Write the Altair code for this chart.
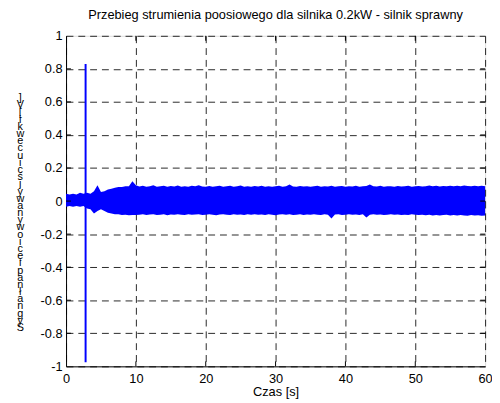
import altair as alt
import pandas as pd

# ---- data ----
t_env = [i * 0.5 for i in range(121)]
upper = [
    0.045, 0.040, 0.045, 0.040, 0.050, 0.045, 0.050, 0.045, 0.060, 0.095,
    0.055, 0.060, 0.070, 0.075, 0.080, 0.085, 0.085, 0.090, 0.090, 0.120,
    0.095,
    0.088, 0.092, 0.086, 0.090, 0.095, 0.087, 0.089, 0.093, 0.086, 0.091,
    0.088, 0.094, 0.087, 0.090, 0.086, 0.092, 0.089, 0.096, 0.088, 0.087,
    0.091, 0.086, 0.090, 0.093, 0.087, 0.089, 0.092, 0.086, 0.090, 0.094,
    0.087, 0.090, 0.086, 0.091, 0.088, 0.093, 0.087, 0.089, 0.086, 0.090,
    0.092, 0.087, 0.089, 0.100, 0.088, 0.086, 0.091, 0.088, 0.090, 0.087,
    0.089, 0.093, 0.086, 0.090, 0.088, 0.092, 0.087, 0.089, 0.091, 0.086,
    0.090, 0.088, 0.093, 0.087, 0.089, 0.091, 0.100, 0.090, 0.088, 0.092,
    0.087, 0.090, 0.089, 0.086, 0.091, 0.088, 0.090, 0.093, 0.087, 0.089,
    0.091, 0.088, 0.090, 0.094, 0.089, 0.092, 0.088, 0.091, 0.090, 0.093,
    0.090, 0.092, 0.089, 0.094, 0.091, 0.090, 0.093, 0.089, 0.092, 0.090,
]
lower = [
    -0.035, -0.030, -0.035, -0.030, -0.035, -0.030, -0.045, -0.050, -0.075, -0.060,
    -0.050, -0.060, -0.070, -0.075, -0.080, -0.080, -0.085, -0.083, -0.086, -0.084,
    -0.085,
    -0.082, -0.080, -0.085, -0.081, -0.079, -0.084, -0.082, -0.080, -0.086, -0.081,
    -0.083, -0.079, -0.082, -0.085, -0.080, -0.083, -0.081, -0.079, -0.084, -0.082,
    -0.080, -0.083, -0.086, -0.081, -0.079, -0.082, -0.084, -0.080, -0.083, -0.081,
    -0.085, -0.080, -0.082, -0.079, -0.083, -0.081, -0.084, -0.080, -0.082, -0.086,
    -0.081, -0.079, -0.083, -0.080, -0.084, -0.082, -0.080, -0.085, -0.081, -0.083,
    -0.079, -0.082, -0.084, -0.080, -0.083, -0.105, -0.081, -0.079, -0.084, -0.082,
    -0.080, -0.083, -0.081, -0.085, -0.080, -0.100, -0.082, -0.080, -0.083, -0.081,
    -0.084, -0.082, -0.080, -0.083, -0.081, -0.085, -0.082, -0.084, -0.080, -0.083,
    -0.085, -0.082, -0.086, -0.083, -0.087, -0.084, -0.088, -0.085, -0.083, -0.087,
    -0.085, -0.088, -0.084, -0.087, -0.089, -0.085, -0.088, -0.086, -0.089, -0.087,
]
spike_t = [2.8]
spike_lo = [-0.975]
spike_hi = [0.83]

x_ticks = [0, 10, 20, 30, 40, 50, 60]
y_ticks = [-1, -0.8, -0.6, -0.4, -0.2, 0, 0.2, 0.4, 0.6, 0.8, 1]

title_text = "Przebieg strumienia poosiowego dla silnika 0.2kW - silnik sprawny"
x_title = "Czas [s]"
y_title_str = "Sygnał napięciowy na wyjściu cewki [V]"
# the reference shows the label's characters stacked upright, last at top
y_title_lines = list(reversed(y_title_str))

FONT = "Liberation Sans"
LABEL_EXPR = "'' + datum.value"

env = pd.DataFrame({"t": t_env, "hi": upper, "lo": lower})
spike = pd.DataFrame({"t": spike_t, "lo": spike_lo, "hi": spike_hi})

xs = alt.Scale(domain=[0, 60], nice=False, zero=False)
ys = alt.Scale(domain=[-1, 1], nice=False, zero=False)

x_axis = alt.Axis(
    values=x_ticks, grid=True, gridDash=[7, 5], gridColor="#000000", gridOpacity=0.85,
    tickSize=0, labelPadding=6, labelFont=FONT, labelFontSize=13, labelColor="#000",
    domainColor="#000", title=x_title, titleFont=FONT, titleFontSize=13,
    titleFontWeight="normal", titleColor="#000", titlePadding=1, labelFlush=False,
    labelOverlap=False, labelExpr=LABEL_EXPR,
)
y_axis = alt.Axis(
    values=y_ticks, grid=True, gridDash=[7, 5], gridColor="#000000", gridOpacity=0.85,
    tickSize=0, labelPadding=4, labelFont=FONT, labelFontSize=13, labelColor="#000",
    domainColor="#000", title=y_title_lines, titleFont=FONT, titleFontSize=11,
    titleFontWeight="normal", titleColor="#000", titleAngle=0, titleLineHeight=7.3,
    titleAlign="center", titleBaseline="middle", titleX=-47, titleY=63, labelFlush=False,
    labelOverlap=False, labelExpr=LABEL_EXPR,
)

band = alt.Chart(env).mark_area(color="#0000ff", opacity=1, strokeWidth=0).encode(
    x=alt.X("t:Q", scale=xs, axis=x_axis),
    y=alt.Y("hi:Q", scale=ys, axis=y_axis),
    y2="lo:Q",
)

spike_rule = alt.Chart(spike).mark_rule(color="#0000ff", strokeWidth=2).encode(
    x=alt.X("t:Q", scale=xs, axis=x_axis),
    y=alt.Y("lo:Q", scale=ys, axis=y_axis),
    y2="hi:Q",
)

# inward tick marks (MATLAB style) on all four sides
tick_len_y = 0.03
tick_len_x = 0.7
xt_rows = []
for v in x_ticks[1:-1]:
    xt_rows.append({"x": v, "y": -1, "y2": -1 + tick_len_y})
    xt_rows.append({"x": v, "y": 1, "y2": 1 - tick_len_y})
yt_rows = []
for v in y_ticks[1:-1]:
    yt_rows.append({"y": v, "x": 0, "x2": tick_len_x})
    yt_rows.append({"y": v, "x": 60, "x2": 60 - tick_len_x})

xt = alt.Chart(pd.DataFrame(xt_rows)).mark_rule(color="#000", strokeWidth=1).encode(
    x=alt.X("x:Q", scale=xs, axis=x_axis),
    y=alt.Y("y:Q", scale=ys, axis=y_axis),
    y2="y2:Q",
)
yt = alt.Chart(pd.DataFrame(yt_rows)).mark_rule(color="#000", strokeWidth=1).encode(
    y=alt.Y("y:Q", scale=ys, axis=y_axis),
    x=alt.X("x:Q", scale=xs, axis=x_axis),
    x2="x2:Q",
)

chart = alt.layer(band, spike_rule, xt, yt).properties(
    width=426,
    height=336,
    title=alt.TitleParams(title_text, font=FONT, fontSize=13, fontWeight="normal",
                          color="#000", offset=8, anchor="middle"),
    autosize=alt.AutoSizeParams(type="none"),
    padding={"left": 59, "top": 25, "right": 7, "bottom": 34},
).configure_view(stroke="#000", strokeWidth=1).configure(background="white")

chart.save("out.html", embed_options={"renderer": "svg", "actions": False})
